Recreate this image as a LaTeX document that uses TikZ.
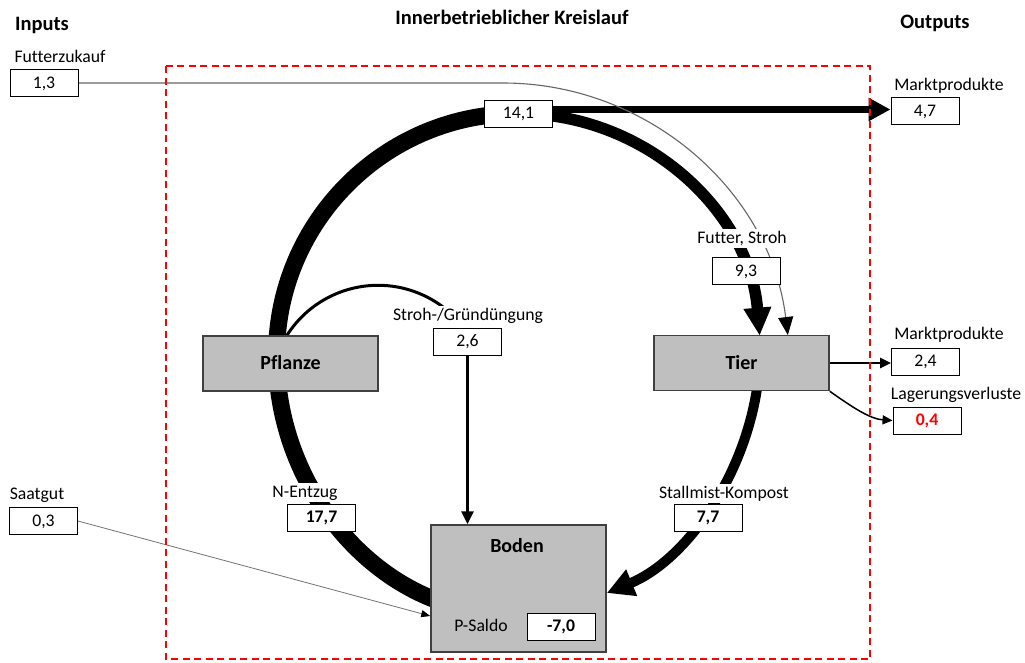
\documentclass[tikz,border=0pt]{standalone}
\usepackage{fontspec}
\setmainfont{Carlito}[Ligatures=NoCommon]
\usetikzlibrary{arrows.meta,calc}
\pgfdeclarelayer{bg}
\pgfsetlayers{bg,main}
\begin{document}
\begin{tikzpicture}[x=1pt,y=-1pt,
  every node/.style={font=\fontsize{17.7}{21}\selectfont, text height=12pt, text depth=2pt},
  hdr/.style={font=\fontsize{20.5}{24}\selectfont\bfseries, text height=14pt},
  lbl/.style={fill=white, inner sep=2.5pt},
  valbox/.style={draw=black, line width=0.9pt, fill=white, minimum width=68pt, minimum height=27pt, inner sep=0pt},
  bval/.style={valbox, font=\fontsize{17.7}{21}\selectfont\bfseries},
  mainbox/.style={draw=black!75, line width=1.5pt, fill=black!25, minimum width=175pt, minimum height=55pt, inner sep=0pt, font=\fontsize{20}{24}\selectfont\bfseries, text height=14pt}
]
\useasboundingbox (0,0) rectangle (1025,662);

% headings
\node[hdr] (inputs) at (42,24) {Inputs};
\node[hdr] (title) at (512,18) {Innerbetrieblicher Kreislauf};
\node[hdr] (outputs) at (935,22) {Outputs};

% inputs
\node[lbl] (lfz) at (60,57) {Futterzukauf};
\node[valbox] (b13) at (44,83) {1,3};
\node[lbl] (lsg) at (37,494) {Saatgut};
\node[valbox] (b03) at (43.5,521) {0,3};

% inner cycle
\node[valbox] (b141) at (518.5,113.5) {14,1};
\node[lbl] (lfs) at (742,238) {Futter, Stroh};
\node[valbox] (b93) at (746,271) {9,3};
\node[lbl] (lsgd) at (468,315) {Stroh-/Gründüngung};
\node[valbox] (b26) at (467.5,341.5) {2,6};
\node[mainbox] (pflanze) at (290.5,363.5) {Pflanze};
\node[mainbox] (tier) at (741.5,363) {Tier};
\node[lbl] (lne) at (305,492) {N-Entzug};
\node[bval] (b177) at (321.5,517.5) {17,7};
\node[lbl] (lsk) at (724,493) {Stallmist-Kompost};
\node[bval] (b77) at (708,517.5) {7,7};
\node[mainbox, minimum height=127pt] (boden) at (518.5,588.5) {};
\node[font=\fontsize{20}{24}\selectfont\bfseries, text height=14pt] (tboden) at (517,546) {Boden};
\node (lps) at (481,626) {P-Saldo};
\node[bval] (b70) at (561,626.5) {-7,0};

% outputs
\node[lbl] (lmp1) at (949,85) {Marktprodukte};
\node[valbox] (b47) at (925,111) {4,7};
\node[lbl] (lmp2) at (949,334) {Marktprodukte};
\node[valbox] (b24) at (925.5,361.5) {2,4};
\node[lbl] (llv) at (956,394) {Lagerungsverluste};
\node[bval, text=red] (b04) at (927,420.5) {0,4};

% system boundary
\draw[red, line width=1.6pt, dash pattern=on 7pt off 4.5pt] (166,66) rectangle (870,659);

\begin{pgfonlayer}{bg}
% N-Entzug arc (Boden - Pflanze - 14,1)
\draw[line width=17pt] (b141.center) arc[start angle=-90,end angle=-180,radius=242]
  .. controls (276,470) and (350,572) .. ($(boden.west)+(14,14.5)$);
% 14,1 -> Tier
\draw[line width=11.5pt, -{Triangle[length=28pt,width=26pt]}] (b141.center) arc[start angle=-90,end angle=-4.7,radius=242];
% Tier -> Boden
\draw[line width=10pt, -{Triangle[length=27pt,width=27pt]}] ($(tier.south)+(16,-6)$)
  .. controls (744,480) and (684,561) .. ($(boden.east)+(0,4.5)$);
% 14,1 -> Marktprodukte
\draw[line width=7.5pt, -{Triangle[length=22pt,width=22pt]}] ([yshift=4pt]b141.east) -- ([yshift=4pt]b141.east -| b47.west);
% Futterzukauf -> Tier
\draw[black!60, line width=1.1pt, -{Triangle[length=18pt,width=15pt,color=black,fill=black]}] (b13.east) -- (503,83) arc[start angle=-90,end angle=-7,radius=287];
% Saatgut -> Boden
\draw[black!55, line width=0.8pt, -{Triangle[length=9pt,width=7pt,color=black,fill=black]}] (b03.east) -- ($(boden.west)+(0,27.5)$);
% Stroh-/Gruenduengung arc
\draw[line width=3pt] ($(pflanze.north)+(-3.5,0)$) arc[start angle=-147.5,end angle=-48,radius=108];
% 2,6 -> Boden
\draw[line width=3pt, -{Triangle[length=13pt,width=12pt]}] (b26.south) -- (b26.south |- boden.north);
% Tier -> Marktprodukte
\draw[line width=2.8pt, -{Triangle[length=11pt,width=10pt]}] (tier.east) -- (tier.east -| b24.west);
% Tier -> Lagerungsverluste
\draw[line width=1.5pt, -{Triangle[length=10pt,width=9pt]}] (tier.south east) .. controls (852,407) and (870,419) .. (b04.west);
\end{pgfonlayer}
\end{tikzpicture}
\end{document}
